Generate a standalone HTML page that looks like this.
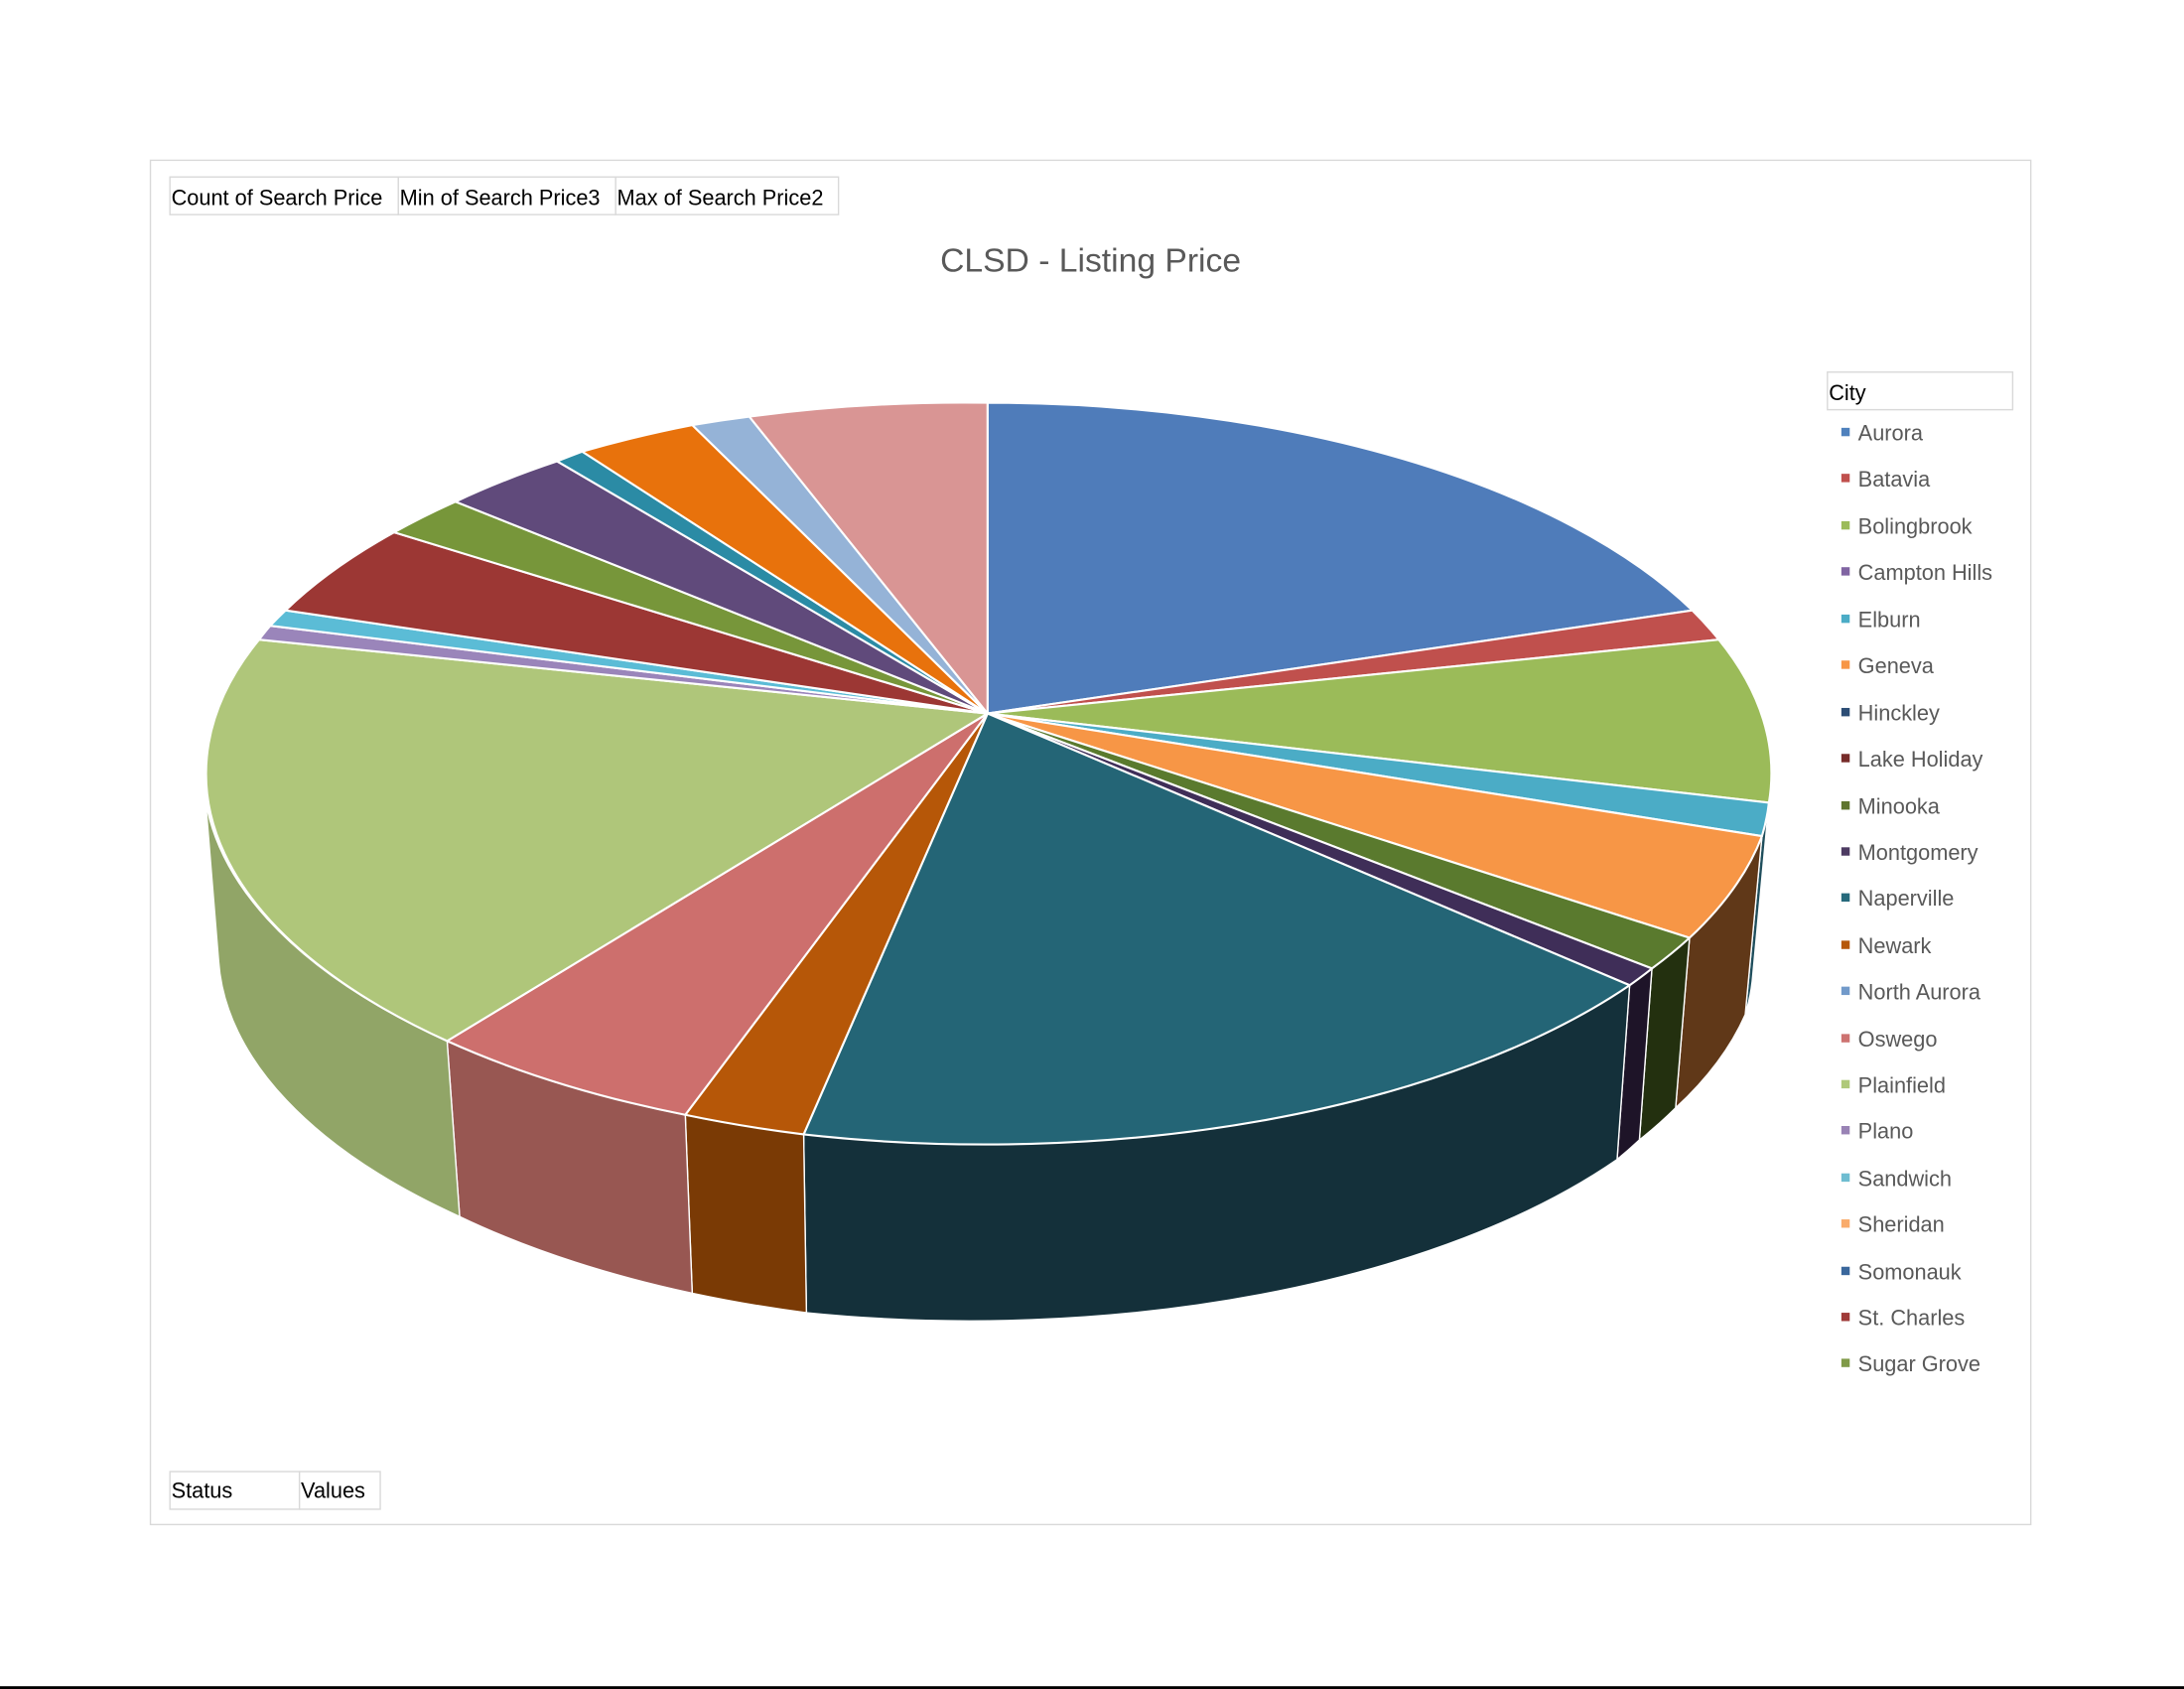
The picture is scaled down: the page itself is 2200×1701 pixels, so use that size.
<!DOCTYPE html>
<html><head><meta charset="utf-8"><style>
html,body{margin:0;padding:0;background:#fff;}
svg{display:block;}
text{font-family:"Liberation Sans","DejaVu Sans",sans-serif;}
</style></head><body>
<svg width="2200" height="1701" viewBox="0 0 1568 1212" preserveAspectRatio="none" xmlns="http://www.w3.org/2000/svg">
<rect x="0" y="0" width="1568" height="1212" fill="#fff"/>
<rect x="108" y="115" width="1350" height="979" fill="#fff" stroke="#d9d9d9" stroke-width="1"/>
<!-- field buttons -->
<g fill="#fff" stroke="#d9d9d9" stroke-width="1">
<rect x="122" y="127" width="164" height="27"/>
<rect x="286" y="127" width="156" height="27"/>
<rect x="442" y="127" width="160" height="27"/>
<rect x="122" y="1056" width="93" height="27"/>
<rect x="215" y="1056" width="58" height="27"/>
<rect x="1312" y="267" width="133" height="27"/>
</g>
<g font-size="15.5" fill="#000">
<text x="123" y="147">Count of Search Price</text>
<text x="287" y="147">Min of Search Price3</text>
<text x="443" y="147">Max of Search Price2</text>
<text x="123" y="1075">Status</text>
<text x="216" y="1075">Values</text>
<text x="1313" y="287">City</text>
</g>
<text x="783" y="195" font-size="24" fill="#595959" text-anchor="middle">CLSD - Listing Price</text>

<!-- side walls -->
<g stroke="#fff" stroke-width="1">
<path d="M1272,555 A563,266 0 0 1 1270,576 L1258,704 A563,266 0 0 0 1260,683 Z" fill="#5b7330"/>
<path d="M1270,576 A563,266 0 0 1 1265,600 L1253,728 A563,266 0 0 0 1258,704 Z" fill="#1f4e5c"/>
<path d="M1265,600 A563,266 0 0 1 1213,673 L1203,795 A563,266 0 0 0 1253,728 Z" fill="#603818"/>
<path d="M1213,673 A563,266 0 0 1 1186,695 L1177,818 A563,266 0 0 0 1203,795 Z" fill="#23300f"/>
<path d="M1186,695 A563,266 0 0 1 1170,707 L1161,832 A563,266 0 0 0 1177,818 Z" fill="#1e1428"/>
<path d="M1170,707 A563,266 0 0 1 577,814 L579,942 A563,266 0 0 0 1161,832 Z" fill="#14303a"/>
<path d="M577,814 A563,266 0 0 1 492,800 L497,928 A563,266 0 0 0 579,942 Z" fill="#7a3a05"/>
<path d="M492,800 A563,266 0 0 1 321,747 L330,873 A563,266 0 0 0 497,928 Z" fill="#985752"/>
<path d="M321,747 A563,266 0 0 1 146,555 L157,690 A563,266 0 0 0 330,873 Z" fill="#91a567"/>
</g>

<!-- top faces -->
<g stroke="#fff" stroke-width="1.5" stroke-linejoin="round">
<path d="M709,512 L709,289 A563,266 0 0 1 1215,438 Z" fill="#4f7cba"/>
<path d="M709,512 L1215,438 A563,266 0 0 1 1234,459 Z" fill="#c0504d"/>
<path d="M709,512 L1234,459 A563,266 0 0 1 1270,576 Z" fill="#9bbb59"/>
<path d="M709,512 L1270,576 A563,266 0 0 1 1265,600 Z" fill="#4bacc6"/>
<path d="M709,512 L1265,600 A563,266 0 0 1 1213,673 Z" fill="#f79646"/>
<path d="M709,512 L1213,673 A563,266 0 0 1 1186,695 Z" fill="#5a7a2e"/>
<path d="M709,512 L1186,695 A563,266 0 0 1 1170,707 Z" fill="#3f2e58"/>
<path d="M709,512 L1170,707 A563,266 0 0 1 577,814 Z" fill="#246576"/>
<path d="M709,512 L577,814 A563,266 0 0 1 492,800 Z" fill="#b65708"/>
<path d="M709,512 L492,800 A563,266 0 0 1 321,747 Z" fill="#cd6f6d"/>
<path d="M709,512 L321,747 A563,266 0 0 1 186,459 Z" fill="#afc67a"/>
<path d="M709,512 L186,459 A563,266 0 0 1 194,449 Z" fill="#9a85ba"/>
<path d="M709,512 L194,449 A563,266 0 0 1 205,438 Z" fill="#5bbcd6"/>
<path d="M709,512 L205,438 A563,266 0 0 1 283,382 Z" fill="#9c3734"/>
<path d="M709,512 L283,382 A563,266 0 0 1 327,360 Z" fill="#77963a"/>
<path d="M709,512 L327,360 A563,266 0 0 1 400,331 Z" fill="#604a7b"/>
<path d="M709,512 L400,331 A563,266 0 0 1 418,324 Z" fill="#2b8ba5"/>
<path d="M709,512 L418,324 A563,266 0 0 1 497,305 Z" fill="#e8720c"/>
<path d="M709,512 L497,305 A563,266 0 0 1 538,299 Z" fill="#95b3d7"/>
<path d="M709,512 L538,299 A563,266 0 0 1 709,289 Z" fill="#d99594"/>
</g>

<!-- legend -->
<g font-size="15.5" fill="#595959">
<rect x="1322" y="307" width="6" height="6" fill="#4f81bd"/><text x="1334" y="316">Aurora</text>
<rect x="1322" y="340" width="6" height="6" fill="#c0504d"/><text x="1334" y="349">Batavia</text>
<rect x="1322" y="374" width="6" height="6" fill="#9bbb59"/><text x="1334" y="383">Bolingbrook</text>
<rect x="1322" y="407" width="6" height="6" fill="#8064a2"/><text x="1334" y="416">Campton Hills</text>
<rect x="1322" y="441" width="6" height="6" fill="#4bacc6"/><text x="1334" y="450">Elburn</text>
<rect x="1322" y="474" width="6" height="6" fill="#f79646"/><text x="1334" y="483">Geneva</text>
<rect x="1322" y="508" width="6" height="6" fill="#2c4d75"/><text x="1334" y="517">Hinckley</text>
<rect x="1322" y="541" width="6" height="6" fill="#772c2a"/><text x="1334" y="550">Lake Holiday</text>
<rect x="1322" y="575" width="6" height="6" fill="#5f7530"/><text x="1334" y="584">Minooka</text>
<rect x="1322" y="608" width="6" height="6" fill="#4d3b62"/><text x="1334" y="617">Montgomery</text>
<rect x="1322" y="641" width="6" height="6" fill="#276a7c"/><text x="1334" y="650">Naperville</text>
<rect x="1322" y="675" width="6" height="6" fill="#b65708"/><text x="1334" y="684">Newark</text>
<rect x="1322" y="708" width="6" height="6" fill="#729aca"/><text x="1334" y="717">North Aurora</text>
<rect x="1322" y="742" width="6" height="6" fill="#cd7371"/><text x="1334" y="751">Oswego</text>
<rect x="1322" y="775" width="6" height="6" fill="#afc97a"/><text x="1334" y="784">Plainfield</text>
<rect x="1322" y="808" width="6" height="6" fill="#9983b5"/><text x="1334" y="817">Plano</text>
<rect x="1322" y="842" width="6" height="6" fill="#6fbdd1"/><text x="1334" y="851">Sandwich</text>
<rect x="1322" y="875" width="6" height="6" fill="#f9ab6b"/><text x="1334" y="884">Sheridan</text>
<rect x="1322" y="909" width="6" height="6" fill="#3a679c"/><text x="1334" y="918">Somonauk</text>
<rect x="1322" y="942" width="6" height="6" fill="#9f3b38"/><text x="1334" y="951">St. Charles</text>
<rect x="1322" y="975" width="6" height="6" fill="#7f9a48"/><text x="1334" y="984">Sugar Grove</text>
</g>
<rect x="0" y="1210" width="1568" height="2" fill="#000"/>
</svg>
</body></html>
